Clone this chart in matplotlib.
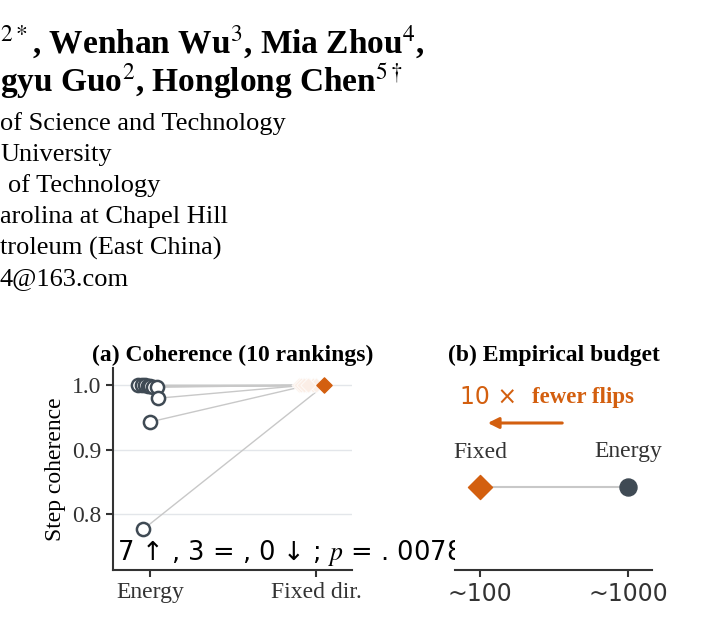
import matplotlib
matplotlib.use("Agg")
import matplotlib.pyplot as plt

plt.rcParams["mathtext.fontset"] = "stix"
SERIF = "Liberation Serif"
ORANGE = "#d35f0f"
DARK = "#3f4a54"

# --- data -------------------------------------------------------------------
energy_coh = [1.0, 1.0, 1.0, 0.999, 0.999, 0.998, 0.997, 0.98, 0.943, 0.776]
energy_jit = [-0.07, -0.05, -0.03, -0.01, 0.0, 0.02, 0.04, 0.05, 0.0, -0.04]
fixed_coh = [1.0] * 10
fixed_jit = [-0.10, -0.08, -0.06, -0.04, -0.02, 0.0, -0.09, -0.07, -0.05, 0.05]
cats_a = ["Energy", "Fixed dir."]
budget_labels = ["~100", "~1000"]
budget_methods = ["Fixed", "Energy"]
summary = "7 ↑ , 3 = , 0 ↓ ; $p$ = . 0078"

W, H = 718, 639
fig = plt.figure(figsize=(W / 100, H / 100), dpi=100)

# --- header text ------------------------------------------------------------
def ft(x, y, s, **kw):
    fig.text(x / W, 1 - y / H, s, va="center", family=SERIF, **kw)

ft(0, 42, r"$^{2*}$, Wenhan Wu$^{3}$, Mia Zhou$^{4}$,", fontsize=24, weight="bold")
ft(0, 82, r"gyu Guo$^{2}$, Honglong Chen$^{5\dagger}$", fontsize=24, weight="bold")
lines = [(0, "of Science and Technology"), (0, "University"), (8, "of Technology"),
         (0, "arolina at Chapel Hill"), (0, "troleum (East China)"), (0, "4@163.com")]
for i, (x, s) in enumerate(lines):
    ft(x, 124 + 31 * i, s, fontsize=19)

# --- panel a ----------------------------------------------------------------
ax = fig.add_axes([113 / W, 1 - 570 / H, (352 - 113) / W, (570 - 368) / H])
for e, ej, f, fj in zip(energy_coh, energy_jit, fixed_coh, fixed_jit):
    ax.plot([ej, 1 + fj], [e, f], color="#c8c8c8", lw=1, zorder=1)
for fj, f in zip(fixed_jit[:-1], fixed_coh[:-1]):
    ax.scatter(1 + fj, f, marker="D", s=60, color="#fbeee6", edgecolor="white", lw=0.5, zorder=2)
ax.scatter(1 + fixed_jit[-1], fixed_coh[-1], marker="D", s=60, color=ORANGE, zorder=3)
ax.scatter(energy_jit, energy_coh, s=90, facecolor="white", edgecolor=DARK, lw=1.8, zorder=3)
ax.set_xlim(-0.223, 1.217)
ax.set_ylim(0.7125, 1.027)
ax.set_xticks([0, 1], cats_a, family=SERIF, fontsize=17)
ax.set_yticks([0.8, 0.9, 1.0], ["0.8", "0.9", "1.0"], family=SERIF, fontsize=17)
ax.grid(axis="y", color="#e3e6ea", lw=1)
ax.set_axisbelow(True)
for s in ["top", "right"]:
    ax.spines[s].set_visible(False)
for s in ["left", "bottom"]:
    ax.spines[s].set_color("#333333")
    ax.spines[s].set_linewidth(1.5)
ax.tick_params(colors="#333333", width=1.5, length=5)
ax.set_ylabel("Step coherence", family=SERIF, fontsize=17)
ax.set_title("(a) Coherence (10 rankings)", family=SERIF, weight="bold", fontsize=17, pad=5)
ax.text(0.015, 0.085, summary, transform=ax.transAxes, fontsize=18.5, va="center",
        clip_on=False, zorder=0)

# --- panel b ----------------------------------------------------------------
bx = fig.add_axes([455 / W, 1 - 570 / H, (652 - 455) / W, (570 - 368) / H])
bx.set_facecolor("white")
bx.set_xlim(0, 1)
bx.set_ylim(0, 1)
xs = [(480 - 455) / 197, (628 - 455) / 197]
yb = (570 - 487) / 202
bx.plot(xs, [yb, yb], color="#c8c8c8", lw=1.5, zorder=1)
bx.scatter(xs[0], yb, marker="D", s=150, color=ORANGE, zorder=3)
bx.scatter(xs[1], yb, s=150, color=DARK, zorder=3)
for x, m in zip(xs, budget_methods):
    bx.text(x, (570 - 452) / 202, m, ha="center", va="center", family=SERIF, fontsize=17, color="#333333")
bx.annotate("", xy=((485 - 455) / 197, (570 - 423) / 202), xytext=((565 - 455) / 197, (570 - 423) / 202),
            arrowprops=dict(arrowstyle="-|>", color=ORANGE, lw=2.2, mutation_scale=16))
bx.text((460 - 455) / 197, (570 - 397) / 202, "10 ×", color=ORANGE, fontsize=17, va="center")
bx.text((532 - 455) / 197, (570 - 397) / 202, "fewer flips", color=ORANGE, family=SERIF,
        weight="bold", fontsize=16.5, va="center")
bx.set_xticks(xs, budget_labels, fontsize=17)
bx.set_yticks([])
for s in ["top", "right", "left"]:
    bx.spines[s].set_visible(False)
bx.spines["bottom"].set_color("#333333")
bx.spines["bottom"].set_linewidth(1.5)
bx.tick_params(colors="#333333", width=1.5, length=5)
bx.set_title("(b) Empirical budget", family=SERIF, weight="bold", fontsize=17, pad=5)

fig.savefig("out.png", dpi=100)
